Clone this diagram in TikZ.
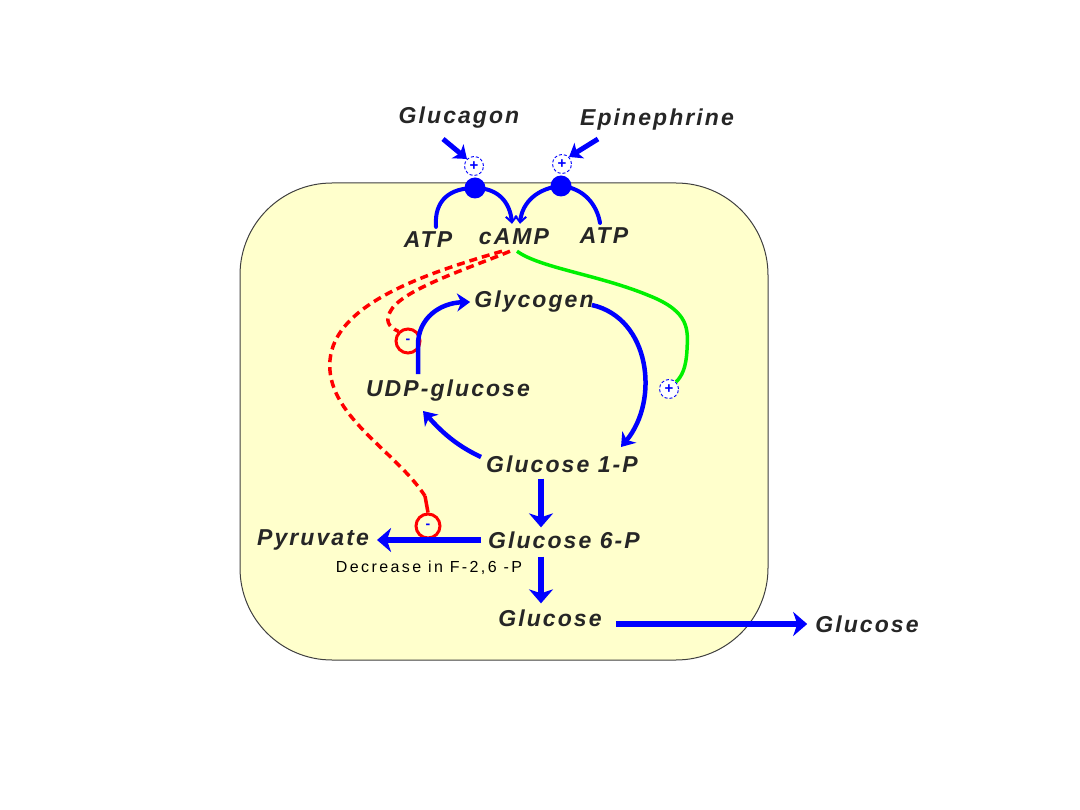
\documentclass[tikz,border=0pt]{standalone}
\usepackage{fontspec}
\setmainfont{Liberation Sans}
\newfontfamily\lblfont[LetterSpace=9]{Liberation Sans}
\newfontfamily\decfont[LetterSpace=15]{Liberation Sans}
\usetikzlibrary{arrows.meta,calc}
\definecolor{cellfill}{RGB}{255,255,204}
\definecolor{myblue}{RGB}{0,0,255}
\definecolor{myred}{RGB}{255,0,0}
\definecolor{mygreen}{RGB}{0,240,0}
\begin{document}
\begin{tikzpicture}[x=1pt,y=-1pt,
  lbl/.style={font=\lblfont\fontsize{23}{26}\selectfont\bfseries\itshape, inner sep=0pt, text=black!85},
  smalllbl/.style={font=\decfont\fontsize{16}{18}\selectfont, inner sep=0pt, text=black},
  dot/.style={circle, fill=myblue, minimum size=21pt, inner sep=0pt},
  plus/.style={circle, draw=myblue, densely dashed, line width=0.9pt, fill=white, minimum size=19pt, inner sep=0pt, text=myblue, font=\bfseries\fontsize{15}{15}\selectfont},
  minus/.style={circle, draw=myred, line width=3pt, minimum size=24pt, inner sep=0pt, text=myblue, font=\bfseries\fontsize{14}{14}\selectfont},
  bluarr/.style={draw=myblue, line width=5.5pt, -{Stealth[length=14pt, width=24pt, inset=4pt]}},
  cycarr/.style={draw=myblue, line width=4.5pt, -{Stealth[length=13pt, width=18pt, inset=4pt]}},
  recline/.style={draw=myblue, line width=4pt, line cap=round},
  recarr/.style={draw=myblue, line width=4pt, -{Straight Barb[length=6pt, width=11pt, line width=2pt]}},
  hormarr/.style={draw=myblue, line width=5pt, -{Stealth[length=12pt, width=18pt, inset=3pt]}},
  reddash/.style={draw=myred, line width=3.5pt, dash pattern=on 8pt off 5pt},
  grn/.style={draw=mygreen, line width=3.5pt}
]
\useasboundingbox (0,0) rectangle (1080,810);
% cell
\draw[fill=cellfill, draw=black!75, line width=1pt, rounded corners=92pt] (240,183) rectangle (768,660);

% labels
\node[lbl] (glucagon) at (459,118) {Glucagon};
\node[lbl] (epi) at (657,120) {Epinephrine};
\node[lbl] (atp1) at (428,240) {ATP};
\node[lbl] (camp) at (514,237) {cAMP};
\node[lbl] (atp2) at (604,236) {ATP};
\node[lbl] (glycogen) at (534,302) {Glycogen};
\node[lbl] (udp) at (448,391) {UDP-glucose};
\node[lbl] (g1p) at (562,464) {Glucose 1-P};
\node[lbl] (g6p) at (564,540) {Glucose 6-P};
\node[lbl] (pyr) at (313,540) {Pyruvate};
\node[smalllbl] (dec) at (429,568) {Decrease in F-2,6 -P};
\node[lbl] (glc) at (550,618) {Glucose};
\node[lbl] (glcout) at (867,624) {Glucose};

% receptors
\node[plus] (p1) at (474,166) {+};
\node[plus] (p2) at (562,164) {+};
\node[dot] (r1) at (475,188) {};
\node[dot] (r2) at (561,186) {};
\coordinate (ga) at (443,139);
\coordinate (ea) at (598,139);
\draw[hormarr] (ga) -- (p1.north west);
\draw[hormarr] (ea) -- (p2.north east);

\draw[recline] ($(atp1.north)+(8,-5)$) .. controls (434,200) and (450,188) .. (r1.center);
\draw[recarr] (r1.center) .. controls (498,188) and (510,202) .. ($(camp.north)+(-2,-5)$);
\draw[recarr] (r2.center) .. controls (538,188) and (522,202) .. ($(camp.north)+(6,-5)$);
\draw[recline] (r2.center) .. controls (584,188) and (597,205) .. ($(atp2.north)+(-4,-5)$);

% green activation
\node[plus] (p3) at (669,389) {+};
\draw[grn] ($(camp.south)+(3,6)$) .. controls (540,268) and (600,275) .. (650,296)
  .. controls (690,312) and (688,330) .. (687,350)
  .. controls (686,368) and (682,376) .. (p3.north east);

% red inhibitions
\node[minus] (m1) at (408,341) {-};
\node[minus] (m2) at (428,526) {-};
\draw[reddash] ($(camp.south)+(-4,6)$) .. controls (470,268) and (400,290) .. (390,312)
  .. controls (386,320) and (387,326) .. (m1.north west);
\draw[reddash] ($(camp.south)+(-12,6)$) .. controls (420,275) and (335,305) .. (330,360)
  .. controls (325,415) and (395,450) .. (425,496);
\draw[myred, line width=3.5pt] (425,496) -- (m2.north);

% cycle
\draw[cycarr] ($(udp.north)+(-30,-6)$) -- (418,345) .. controls (418,318) and (440,303) .. ($(glycogen.west)+(-4,0)$);
\draw[cycarr] ($(glycogen.east)+(-2,3)$) .. controls (650,318) and (660,400) .. (621,447);
\draw[cycarr] ($(g1p.west)+(-5,-7)$) .. controls (455,445) and (440,430) .. (423,411);

% pathway
\draw[bluarr] ($(g1p.south)+(-21,6)$) -- ($(g6p.north)+(-23,-4)$);
\draw[bluarr] ($(g6p.south)+(-23,8)$) -- ($(glc.north)+(-9,-6)$);
\draw[bluarr] ($(g6p.west)+(-7,0)$) -- ($(pyr.east)+(8,0)$);
\draw[bluarr] ($(glc.east)+(14,6)$) -- ($(glcout.west)+(-8,0)$);
\end{tikzpicture}
\end{document}
